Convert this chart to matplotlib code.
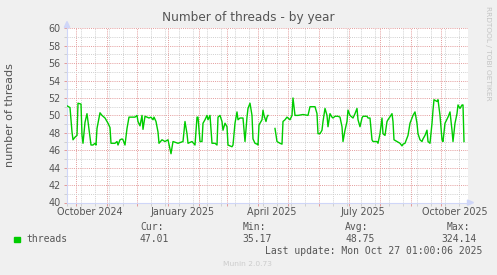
import numpy as np
import pandas as pd
import matplotlib
matplotlib.use('Agg')
import matplotlib.pyplot as plt
import matplotlib.patches as mpatches

W, H = 497, 275
BG    = '#F0F0F0'
FONT  = '#555555'
AXIS  = '#CFD6F8'
MGRID = '#E39A9A'
GRID  = '#CFCFCF'
LINE  = '#00CC00'

# ---- data (daily averages) ----
START = pd.Timestamp('2024-09-22')
N_DAYS = 400

day = [0, 3, 5, 6, 8, 10, 11, 14, 15, 16, 18, 20, 21, 22, 24, 26, 28, 29, 30, 33,
       35, 36, 38, 40, 41, 43, 44, 48, 50, 51, 53, 55, 56, 58, 60, 62, 65, 68, 70, 71,
       73, 75, 76, 78, 80, 82, 84, 86, 87, 89, 90, 91, 92, 95, 98, 101, 104, 106, 111, 116,
       118, 120, 121, 125, 128, 130, 131, 133, 135, 136, 138, 140, 141, 143, 145, 148, 150, 151, 153, 155,
       156, 158, 160, 161, 165, 166, 168, 170, 171, 173, 176, 178, 180, 181, 183, 185, 186, 188, 190, 191,
       192, 195, 196, 197, 199, 200, 201, 204, 208, 210, 213, 215, 216, 218, 220, 221, 223, 225, 226, 228,
       231, 236, 241, 243, 248, 250, 251, 253, 255, 256, 258, 260, 261, 263, 265, 266, 268, 271, 273, 275,
       276, 278, 280, 281, 283, 285, 286, 288, 290, 291, 293, 295, 296, 300, 301, 303, 305, 306, 310, 311,
       313, 315, 316, 318, 320, 321, 325, 326, 327, 330, 333, 335, 336, 338, 341, 343, 346, 348, 350, 351,
       353, 355, 356, 358, 360, 361, 363, 365, 366, 367, 370, 371, 373, 375, 376, 378, 381, 383, 385, 386,
       388, 390, 391, 393, 395, 396, 397]

threads = [51.1, 50.9, 48.1, 47.2, 47.5, 47.7, 51.4, 51.3, 47.7, 46.8, 49.2, 50.2, 49.3, 48.3, 46.6, 46.6, 46.8, 46.6, 48.5, 50.3,
           50.0, 49.9, 49.7, 49.3, 49.1, 48.6, 46.8, 46.8, 47.0, 46.6, 47.2, 47.3, 47.2, 46.6, 48.5, 49.8, 49.8, 49.8, 50.0, 49.3,
           48.8, 50.0, 48.4, 49.9, 49.8, 49.7, 49.8, 49.5, 49.8, 49.3, 48.7, 48.1, 46.8, 47.2, 47.0, 47.2, 45.6, 47.0, 46.8, 47.0,
           49.3, 47.9, 46.8, 47.0, 46.6, 49.8, 49.8, 47.0, 47.0, 49.1, 49.5, 50.0, 49.5, 50.0, 46.8, 46.8, 46.6, 49.8, 50.0, 49.3,
           48.3, 49.1, 48.7, 46.6, 46.4, 46.6, 49.1, 50.4, 49.5, 49.7, 49.7, 47.0, 49.8, 50.8, 51.4, 50.0, 47.3, 46.8, 46.7, 46.6,
           48.9, 49.5, 50.6, 50.0, 49.3, 49.8, 50.0, np.nan, 48.5, 47.0, 46.8, 46.7, 49.3, 49.5, 49.8, 49.7, 49.5, 50.0, 52.0, 50.0,
           50.0, 50.1, 50.0, 51.0, 51.0, 50.2, 47.9, 47.9, 48.3, 49.3, 50.8, 50.0, 48.7, 50.2, 49.8, 49.7, 49.9, 49.9, 49.8, 48.7,
           47.0, 48.3, 49.3, 50.6, 50.0, 49.8, 49.7, 50.2, 50.8, 49.5, 48.7, 49.7, 49.9, 49.9, 49.7, 49.7, 47.2, 47.0, 47.0, 46.8,
           47.9, 49.7, 47.9, 47.7, 49.3, 49.5, 50.2, 49.3, 47.2, 47.0, 46.8, 46.5, 46.7, 46.8, 47.7, 49.1, 50.0, 50.4, 49.1, 47.9,
           47.2, 47.0, 47.3, 47.7, 48.3, 47.0, 46.8, 49.1, 50.6, 51.8, 51.6, 51.8, 50.0, 47.2, 47.0, 49.1, 49.8, 50.4, 48.3, 47.0,
           49.1, 50.2, 51.2, 50.8, 51.2, 51.2, 47.0]

y_ticks = list(range(40, 61, 2))
x_labels = ['October 2024', 'January 2025', 'April 2025', 'July 2025', 'October 2025']
x_label_dates = ['2024-10-15', '2025-01-15', '2025-04-15', '2025-07-15', '2025-10-15']

legend_name = 'threads'
legend_heads = ['Cur:', 'Min:', 'Avg:', 'Max:']
legend_vals = ['47.01', '35.17', '48.75', '324.14']
last_update = 'Last update: Mon Oct 27 01:00:06 2025'

dates = START + pd.to_timedelta(day, unit='D')


def fx(px):
    return px / W


def fy(py):
    return 1 - py / H


fig = plt.figure(figsize=(W / 100, H / 100), dpi=100)
fig.patch.set_facecolor(BG)

# canvas: x 67..468 px, y 28.3..202.5 px
ax = fig.add_axes([fx(67), fy(202.5), 401 / W, 174.2 / H])
ax.set_facecolor('white')

ax.plot(dates, threads, color=LINE, lw=1.0, zorder=3)

ax.set_xlim(START, START + pd.Timedelta(days=N_DAYS + 1))
ax.set_ylim(40, 60)

# grid: red on month starts / even values, grey on fortnights / odd values
month_starts = pd.date_range('2024-10-01', '2025-10-01', freq='MS')
fortnights = pd.date_range(START, START + pd.Timedelta(days=N_DAYS), freq='14D')
ax.set_xticks(month_starts)
ax.set_xticks(fortnights, minor=True)
ax.set_xticklabels([])
ax.set_yticks(y_ticks)
ax.set_yticks(range(41, 60, 2), minor=True)
ax.set_yticklabels([str(v) for v in y_ticks], fontsize=6.9, color=FONT)

ax.set_axisbelow(True)
ax.grid(which='major', color=MGRID, linestyle=(0, (1, 1.2)), lw=0.7)
ax.grid(which='minor', color=GRID, linestyle=(0, (1, 1.2)), lw=0.7)
ax.tick_params(which='major', length=2.2, width=0.7, color=MGRID, pad=2.2)
ax.tick_params(which='minor', length=2.2, width=0.7, color=GRID)

for s in ['top', 'right']:
    ax.spines[s].set_visible(False)
for s in ['left', 'bottom']:
    ax.spines[s].set_color(AXIS)
    ax.spines[s].set_linewidth(0.8)

for lab, d in zip(x_labels, x_label_dates):
    ax.text(pd.Timestamp(d), -0.056, lab, transform=ax.get_xaxis_transform(),
            ha='center', va='center', fontsize=6.9, color=FONT, clip_on=False)

# axis arrows
fig.patches.append(mpatches.Polygon([(fx(64.3), fy(27.5)), (fx(69.7), fy(27.5)), (fx(67), fy(21.5))],
                                    closed=True, color=AXIS, transform=fig.transFigure))
fig.patches.append(mpatches.Polygon([(fx(467.5), fy(200)), (fx(467.5), fy(205.2)), (fx(473.5), fy(202.6))],
                                    closed=True, color=AXIS, transform=fig.transFigure))

# titles
fig.text(fx(248.5), fy(18), 'Number of threads - by year', ha='center', va='center',
         fontsize=8.7, color=FONT)
fig.text(fx(10), fy(115), 'number of threads', rotation=90, ha='center', va='center',
         fontsize=8, color=FONT)
fig.text(fx(488), fy(53), 'RRDTOOL / TOBI OETIKER', rotation=-90, ha='center', va='center',
         fontsize=5.3, color='#C4C4C4')

# legend
mono = 'DejaVu Sans Mono'
fig.patches.append(mpatches.Rectangle((fx(14), fy(242.3)), 5.5 / W, 5.5 / H, color=LINE,
                                      transform=fig.transFigure))
fig.text(fx(26.7), fy(239.5), legend_name, family=mono, fontsize=7, color=FONT, va='center')
head_x = [140, 242.7, 345.3, 446.7]
val_x = [140, 242.7, 345.3, 441.7]
for hx, vx, h, v in zip(head_x, val_x, legend_heads, legend_vals):
    fig.text(fx(hx), fy(227.3), h, family=mono, fontsize=7, color=FONT, va='center')
    fig.text(fx(vx), fy(239.5), v, family=mono, fontsize=7, color=FONT, va='center')
fig.text(fx(482.5), fy(251.5), last_update, family=mono, fontsize=7, color=FONT,
         va='center', ha='right')
fig.text(fx(247.5), fy(264.5), 'Munin 2.0.73', ha='center', va='center', fontsize=5.4,
         color='#CCCCCC')

fig.savefig('out.png', dpi=100, facecolor=BG)
